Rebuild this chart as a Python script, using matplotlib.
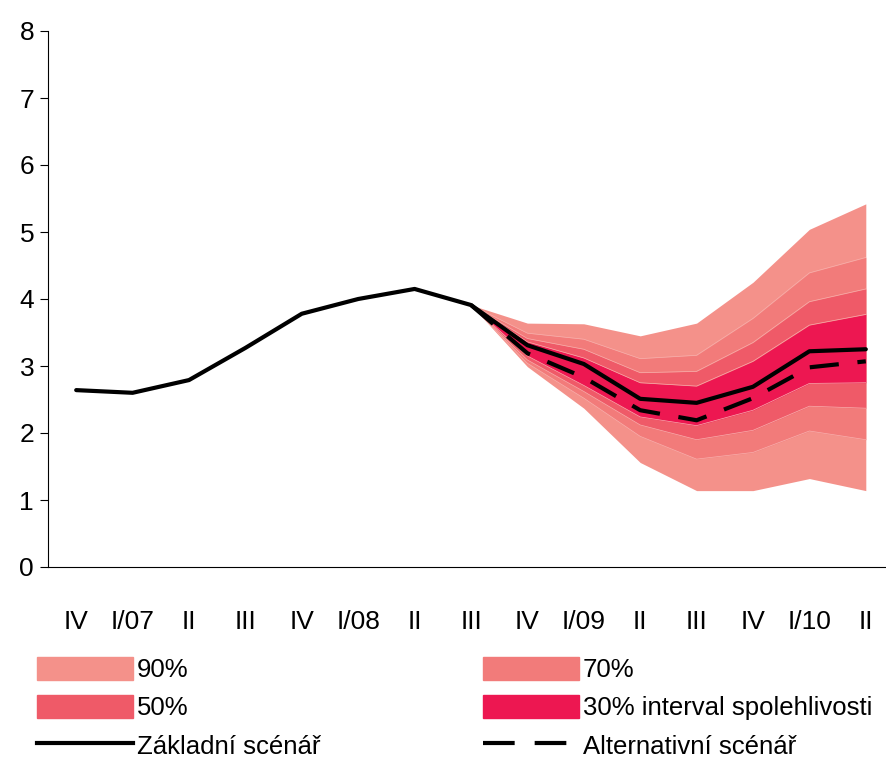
import numpy as np
import matplotlib
matplotlib.use("Agg")
import matplotlib.pyplot as plt
from matplotlib.patches import Patch
from matplotlib.lines import Line2D

plt.rcParams["font.family"] = ["Liberation Sans", "DejaVu Sans"]

# categories (quarters)
labels = ["IV", "I/07", "II", "III", "IV", "I/08", "II", "III",
          "IV", "I/09", "II", "III", "IV", "I/10", "II"]

# baseline scenario
base = [2.64, 2.60, 2.79, 3.27, 3.78, 4.00, 4.15, 3.91,
        3.31, 3.03, 2.51, 2.45, 2.69, 3.22, 3.25]

# alternative scenario (from III/08)
alt = [3.91, 3.19, 2.83, 2.34, 2.19, 2.52, 2.98, 3.07]

# fan chart bands (from III/08), upper / lower
up90 = [3.91, 3.64, 3.63, 3.45, 3.64, 4.25, 5.04, 5.42]
up70 = [3.91, 3.49, 3.40, 3.11, 3.16, 3.71, 4.39, 4.62]
up50 = [3.91, 3.41, 3.25, 2.90, 2.92, 3.35, 3.96, 4.15]
up30 = [3.91, 3.36, 3.12, 2.75, 2.70, 3.07, 3.61, 3.77]
lo30 = [3.91, 3.15, 2.71, 2.24, 2.11, 2.34, 2.74, 2.75]
lo50 = [3.91, 3.09, 2.62, 2.12, 1.90, 2.04, 2.40, 2.37]
lo70 = [3.91, 3.04, 2.52, 1.95, 1.61, 1.71, 2.03, 1.90]
lo90 = [3.91, 2.99, 2.37, 1.56, 1.14, 1.14, 1.32, 1.14]

c90 = "#f4918a"
c70 = "#f27b7a"
c50 = "#ef5a68"
c30 = "#ed1751"

fig = plt.figure(figsize=(8.86, 7.59), dpi=100)
ax = fig.add_axes([48/886, 192/759, 846/886, 536/759])

x = np.arange(len(labels))
xf = x[7:]

ax.fill_between(xf, lo90, up90, color=c90, lw=0)
ax.fill_between(xf, lo70, up70, color=c70, lw=0)
ax.fill_between(xf, lo50, up50, color=c50, lw=0)
ax.fill_between(xf, lo30, up30, color=c30, lw=0)
for b in [up70, up50, up30, lo30, lo50, lo70]:
    ax.plot(xf, b, color="#f8b0ad", lw=0.5)

ax.plot(x, base, color="black", lw=3, solid_capstyle="round", solid_joinstyle="round")
ax.plot(xf, alt, color="black", lw=3, dashes=(7, 4.5))

ax.set_xlim(-0.5, 14.5)
ax.set_ylim(0, 8)
ax.set_yticks(range(0, 9))
ax.set_xticks(x)
ax.set_xticklabels(labels, fontsize=19)
ax.tick_params(axis="x", length=0, pad=31)
ax.tick_params(axis="y", length=6, direction="out", labelsize=19, pad=4)
ax.spines["top"].set_visible(False)
ax.spines["right"].set_visible(False)
ax.spines["left"].set_linewidth(0.8)
ax.spines["bottom"].set_linewidth(0.8)

handles = [
    Patch(color=c90, label="90%"),
    Patch(color=c50, label="50%"),
    Line2D([], [], color="black", lw=3, label="Základní scénář"),
    Patch(color=c70, label="70%"),
    Patch(color=c30, label="30% interval spolehlivosti"),
    Line2D([], [], color="black", lw=3, dashes=(7.6, 4.8), label="Alternativní scénář"),
]
fig.legend(handles=handles, ncol=2, loc="upper left", bbox_to_anchor=(37/886, 1 - 657/759),
           frameon=False, prop={"size": 18.5},
           handlelength=3.75, handleheight=1.0, handletextpad=0.15,
           labelspacing=0.5, columnspacing=6.3, borderaxespad=0, borderpad=0)

fig.savefig("out.png", dpi=100)
